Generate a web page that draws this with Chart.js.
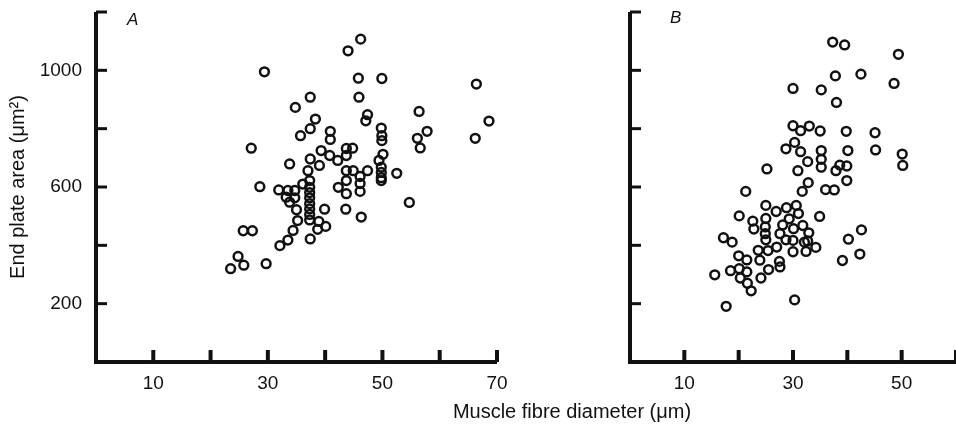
<!DOCTYPE html>
<html>
<head>
<meta charset="utf-8">
<title>End plate area vs muscle fibre diameter</title>
<script src="https://cdn.jsdelivr.net/npm/chart.js@4.4.1/dist/chart.umd.min.js"></script>
<style>
  html, body { margin: 0; padding: 0; background: #fff; }
  #wrap { position: relative; width: 956px; height: 424px; overflow: hidden; }
  .panel { position: absolute; top: 0; height: 424px; }
  #panelA { left: 0; width: 520px; }
  #panelB { left: 520px; width: 436px; }
  #xTitle {
    position: absolute; left: 572px; top: 400px; transform: translateX(-50%);
    font: 20px "Liberation Sans", Arial, sans-serif; color: #111; white-space: nowrap;
  }
</style>
</head>
<body>
<div id="wrap">
  <div class="panel" id="panelA"><canvas id="chartA" width="520" height="424"></canvas></div>
  <div class="panel" id="panelB"><canvas id="chartB" width="436" height="424"></canvas></div>
  <div id="xTitle">Muscle fibre diameter (μm)</div>
</div>
<script>
// panel A: fibre diameter (um) and end plate area (um^2)
var diamA = [29.4, 46.2, 44.0, 45.8, 49.9, 37.4, 45.9, 34.8, 47.4, 47.1,
             38.3, 37.4, 35.7, 40.9, 40.9, 49.8, 49.9, 49.9, 56.4, 57.8,
             56.1, 56.6, 66.4, 66.2, 68.6, 27.1, 39.3, 40.8, 42.2, 43.7,
             44.8, 43.7, 33.8, 37.4, 39.0, 37.0, 43.7, 44.9, 47.4, 46.1,
             43.7, 42.3, 43.7, 46.1, 46.1, 43.6, 46.3, 49.4, 50.1, 49.8,
             49.8, 49.8, 49.8, 52.5, 54.7, 28.6, 31.9, 33.5, 34.7, 33.2,
             34.7, 33.8, 36.1, 37.3, 37.3, 37.3, 37.3, 37.3, 37.3, 37.3,
             37.3, 35.0, 35.2, 39.9, 38.9, 40.1, 38.7, 34.4, 37.4, 33.5,
             32.1, 25.7, 27.3, 24.8, 25.8, 23.5, 29.7];
var areaA = [995, 1107, 1067, 973, 972, 908, 908, 873, 848, 827,
             833, 800, 776, 791, 763, 802, 776, 759, 859, 791,
             767, 734, 953, 767, 826, 733, 725, 708, 691, 732,
             733, 708, 679, 696, 674, 656, 656, 656, 656, 636,
             622, 599, 577, 612, 585, 524, 497, 691, 712, 668,
             650, 632, 622, 647, 547, 601, 590, 588, 588, 565,
             563, 548, 610, 622, 599, 581, 563, 543, 525, 506,
             487, 522, 485, 524, 482, 465, 455, 451, 422, 418,
             399, 450, 450, 362, 332, 320, 337];

// panel B
var diamB = [37.3, 39.5, 49.4, 37.8, 42.5, 48.6, 30.0, 35.2, 38.0, 30.0,
             31.4, 33.0, 35.0, 39.8, 45.1, 30.3, 28.7, 31.4, 35.2, 40.1,
             45.2, 50.1, 50.2, 32.7, 35.2, 35.2, 30.9, 37.9, 38.6, 39.9,
             25.2, 32.8, 31.7, 36.0, 37.6, 39.9, 21.3, 20.1, 25.0, 26.9,
             28.8, 30.6, 31.0, 34.9, 29.3, 28.1, 30.1, 31.8, 32.9, 32.7,
             34.2, 32.4, 32.1, 30.0, 30.0, 28.7, 27.6, 27.0, 25.0, 24.9,
             24.9, 22.6, 22.8, 25.0, 23.6, 25.4, 27.5, 27.6, 23.9, 25.5,
             24.1, 21.5, 20.0, 20.1, 21.5, 20.3, 21.6, 22.3, 18.5, 15.6,
             17.2, 18.8, 17.7, 30.3, 39.1, 40.2, 42.6, 42.3];
var areaB = [1097, 1087, 1055, 981, 987, 955, 938, 933, 890, 810,
             793, 809, 792, 791, 786, 753, 731, 721, 725, 725,
             727, 713, 674, 687, 695, 668, 656, 656, 675, 672,
             662, 615, 585, 591, 590, 622, 585, 501, 537, 516,
             529, 537, 509, 499, 491, 470, 457, 468, 443, 415,
             393, 379, 411, 417, 378, 419, 440, 394, 492, 463,
             440, 483, 456, 419, 383, 382, 345, 326, 349, 317,
             288, 350, 364, 320, 309, 288, 270, 244, 313, 299,
             426, 411, 191, 213, 348, 421, 453, 370];

// tick marks and which of them carry a label
var yTicks = [200, 400, 600, 800, 1000, 1200];
var yLabels = [200, 600, 1000];
var xTicksA = [10, 20, 30, 40, 50, 60, 70];
var xLabelsA = [10, 30, 50, 70];
var xTicksB = [10, 20, 30, 40, 50, 60];
var xLabelsB = [10, 30, 50];

var FONT = '"Liberation Sans", Arial, Helvetica, sans-serif';
var INK = '#111';

// axis L-frame with short tick marks pointing into the plot, plus the panel letter
var frameAndTicks = {
  id: 'frameAndTicks',
  afterDatasetsDraw: function (chart, args, opts) {
    var ctx = chart.ctx, a = chart.chartArea;
    var xs = chart.scales.x, ys = chart.scales.y;
    ctx.save();
    ctx.strokeStyle = INK;
    ctx.lineWidth = 4;
    ctx.lineJoin = 'miter';
    ctx.beginPath();
    ctx.moveTo(a.left, a.top);
    ctx.lineTo(a.left, a.bottom);
    ctx.lineTo(a.right, a.bottom);
    ctx.stroke();

    ctx.lineWidth = 3;
    ys.ticks.forEach(function (t) {
      var y = ys.getPixelForValue(t.value);
      ctx.beginPath();
      ctx.moveTo(a.left, y);
      ctx.lineTo(a.left + 11, y);
      ctx.stroke();
    });
    ctx.lineWidth = 4;
    xs.ticks.forEach(function (t) {
      var x = xs.getPixelForValue(t.value);
      ctx.beginPath();
      ctx.moveTo(x, a.bottom);
      ctx.lineTo(x, a.bottom - 12);
      ctx.stroke();
    });

    if (opts.letter) {
      ctx.fillStyle = INK;
      ctx.font = 'italic 17px ' + FONT;
      ctx.textBaseline = 'alphabetic';
      ctx.fillText(opts.letter, a.left + opts.dx, opts.y);
    }
    ctx.restore();
  }
};

function makePanel(canvasId, xs, ys, cfg) {
  var ctx = document.getElementById(canvasId).getContext('2d');
  return new Chart(ctx, {
    type: 'scatter',
    data: {
      datasets: [{
        data: xs.map(function (x, i) { return { x: x, y: ys[i] }; }),
        pointStyle: 'circle',
        pointRadius: 4.4,
        pointHoverRadius: 4.4,
        pointBorderWidth: 2.5,
        pointBorderColor: INK,
        pointBackgroundColor: 'rgba(0,0,0,0)'
      }]
    },
    options: {
      responsive: false,
      animation: false,
      layout: {
        autoPadding: false,
        padding: { top: 12, right: cfg.padRight, bottom: 0, left: 0 }
      },
      plugins: {
        legend: { display: false },
        tooltip: { enabled: false },
        frameAndTicks: { letter: cfg.letter, dx: cfg.letterDx, y: cfg.letterY }
      },
      scales: {
        x: {
          type: 'linear',
          min: 0,
          max: cfg.xMax,
          grid: { display: false, drawTicks: false },
          border: { display: false },
          afterBuildTicks: function (scale) {
            scale.ticks = cfg.xTicks.map(function (v) { return { value: v }; });
          },
          afterFit: function (scale) {
            scale.height = 62;
            scale.paddingLeft = 0;
            scale.paddingRight = 0;
          },
          ticks: {
            autoSkip: false,
            maxRotation: 0,
            padding: 10,
            color: INK,
            font: { family: FONT, size: 19 },
            callback: function (v) { return cfg.xLabels.indexOf(v) >= 0 ? String(v) : ''; }
          }
        },
        y: {
          type: 'linear',
          min: 0,
          max: 1200,
          grid: { display: false, drawTicks: false },
          border: { display: false },
          afterBuildTicks: function (scale) {
            scale.ticks = yTicks.map(function (v) { return { value: v }; });
          },
          afterFit: function (scale) {
            scale.width = cfg.yWidth;
            scale.paddingTop = 0;
            scale.paddingBottom = 0;
          },
          title: {
            display: cfg.showYTitle,
            text: 'End plate area (μm²)',
            color: INK,
            font: { family: FONT, size: 20 },
            padding: { top: 6, bottom: 0 }
          },
          ticks: {
            display: cfg.showYTitle,
            autoSkip: false,
            padding: 14,
            color: INK,
            font: { family: FONT, size: 19 },
            callback: function (v) { return yLabels.indexOf(v) >= 0 ? String(v) : ''; }
          }
        }
      }
    },
    plugins: [frameAndTicks]
  });
}

makePanel('chartA', diamA, areaA, {
  xMax: 70, xTicks: xTicksA, xLabels: xLabelsA,
  yWidth: 96, padRight: 23, showYTitle: true,
  letter: 'A', letterDx: 31, letterY: 25
});

makePanel('chartB', diamB, areaB, {
  xMax: 60, xTicks: xTicksB, xLabels: xLabelsB,
  yWidth: 110, padRight: 0, showYTitle: false,
  letter: 'B', letterDx: 40, letterY: 23
});
</script>
</body>
</html>
